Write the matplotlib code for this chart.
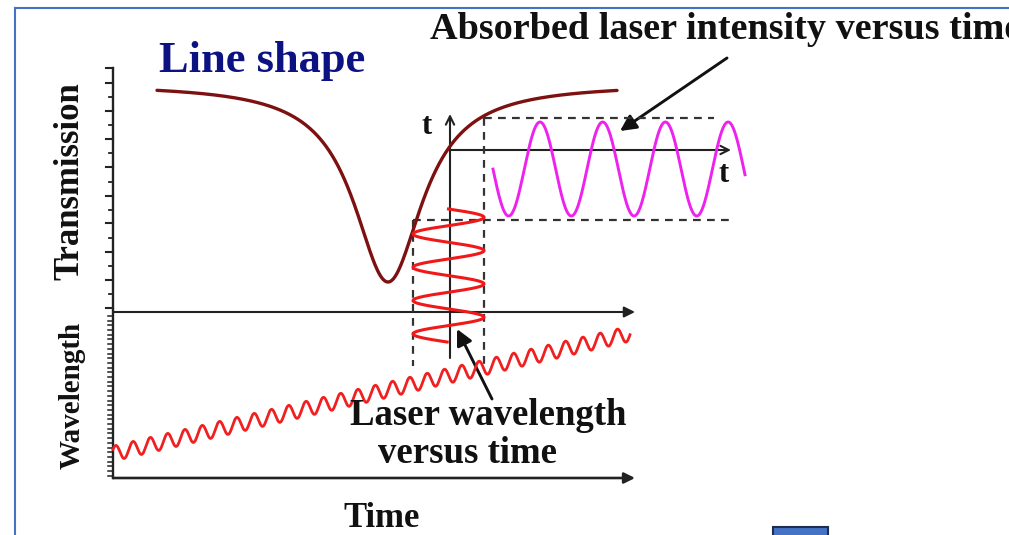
import numpy as np
import matplotlib
matplotlib.use("Agg")
import matplotlib.pyplot as plt
from matplotlib.patches import Rectangle, FancyArrowPatch

# canvas units are pixels, origin top-left
W, H = 1009, 535

# transmission line shape (Lorentzian dip)
DIP_SPAN = [157, 617]
DIP_CENTER = 388
DIP_HALF_WIDTH = 42
DIP_BASELINE = 84
DIP_DEPTH = 198

# laser wavelength: slow ramp plus fast sine modulation
RAMP_SPAN = [113, 630]
RAMP_LEVEL = [453.6, 333.7]
RAMP_PERIOD = 17.3
RAMP_AMPLITUDE = 7.5
RAMP_FIRST_PEAK = 133

# wavelength modulation drawn against the line shape, time running downward
MOD_X = [413, 484]
MOD_T = [209, 342]
MOD_PERIOD = 33.3

# absorbed intensity versus time
SIG_T = [493, 745]
SIG_LEVEL = [122, 216]
SIG_PERIOD = 62.7
SIG_FIRST_PEAK = 540

# axis frame
T_AXIS_X = 113
T_AXIS_TOP = 68
SPLIT_Y = 312
BOTTOM_Y = 478
AXIS_END_X = 635
TRANS_TICKS = [83, 111, 139, 167, 196, 223, 252, 280, 308]

INK = "#222222"
SERIF = "Liberation Serif"


def arrow(ax, start, end, style="-|>", lw=1.4, scale=14, color=INK):
    ax.add_patch(FancyArrowPatch(start, end, arrowstyle=style, mutation_scale=scale,
                                 color=color, lw=lw, shrinkA=0, shrinkB=0))


def label(ax, x, y, s, size, **kw):
    kw.setdefault("ha", "center")
    kw.setdefault("va", "baseline")
    kw.setdefault("color", "#111111")
    ax.text(x, y, s, fontsize=size, fontfamily=SERIF, fontweight="bold", **kw)


fig = plt.figure(figsize=(W / 100, H / 100), dpi=100)
ax = fig.add_axes([0, 0, 1, 1])
ax.set_xlim(0, W)
ax.set_ylim(H, 0)
ax.set_axis_off()

# slide frame
ax.plot([15, 15], [8, H], color="#4472c4", lw=1.5)
ax.plot([15, W], [8, 8], color="#4472c4", lw=1.5)
ax.add_patch(Rectangle((773, 527), 55, 12, fc="#4472c4", ec="#1f2d50", lw=1.5))

# transmission axis with ticks
ax.plot([T_AXIS_X, T_AXIS_X], [BOTTOM_Y, T_AXIS_TOP], color=INK, lw=1.7)
for y in TRANS_TICKS:
    ax.plot([T_AXIS_X - 7, T_AXIS_X], [y, y], color=INK, lw=1.5)
for y0, y1 in zip(TRANS_TICKS[:-1], TRANS_TICKS[1:]):
    ym = (y0 + y1) / 2
    ax.plot([T_AXIS_X - 4, T_AXIS_X], [ym, ym], color=INK, lw=1.3)
ax.plot([T_AXIS_X - 7, T_AXIS_X], [T_AXIS_TOP, T_AXIS_TOP], color=INK, lw=1.5)

# wavelength axis: dense small ticks
for y in np.arange(SPLIT_Y + 4, BOTTOM_Y, 4.7):
    ax.plot([T_AXIS_X - 5, T_AXIS_X], [y, y], color=INK, lw=1.1)

# two time axes
arrow(ax, (T_AXIS_X, SPLIT_Y), (AXIS_END_X, SPLIT_Y), lw=1.5, scale=16)
arrow(ax, (T_AXIS_X, BOTTOM_Y), (AXIS_END_X, BOTTOM_Y), lw=1.9, scale=16)

# line shape
x = np.linspace(DIP_SPAN[0], DIP_SPAN[1], 600)
dip = DIP_BASELINE + DIP_DEPTH / (1 + ((x - DIP_CENTER) / DIP_HALF_WIDTH) ** 2)
ax.plot(x, dip, color="#7d1010", lw=2.4, solid_capstyle="round", zorder=3)

# wavelength ramp
x = np.linspace(RAMP_SPAN[0], RAMP_SPAN[1], 1500)
level = np.interp(x, RAMP_SPAN, RAMP_LEVEL)
ramp = level - RAMP_AMPLITUDE * np.cos(2 * np.pi * (x - RAMP_FIRST_PEAK) / RAMP_PERIOD)
ax.plot(x, ramp, color="#f02020", lw=2.0, zorder=3)

# dashed guides
dash = dict(color="#333333", lw=1.6, ls=(0, (3.5, 2.8)), zorder=2)
ax.plot([MOD_X[0], MOD_X[0]], [SIG_LEVEL[1] + 4, 366], **dash)
ax.plot([MOD_X[1], MOD_X[1]], [SIG_LEVEL[0] - 4, 366], **dash)
ax.plot([MOD_X[1], 714], [SIG_LEVEL[0] - 4, SIG_LEVEL[0] - 4], **dash)
ax.plot([MOD_X[0], 732], [SIG_LEVEL[1] + 4, SIG_LEVEL[1] + 4], **dash)

# inset axes
inset_x = (MOD_X[0] + MOD_X[1]) / 2 + 1.5
arrow(ax, (inset_x, 358), (inset_x, 114), style="->", lw=1.5, scale=15)
arrow(ax, (inset_x, 150), (731, 150), style="->", lw=1.5, scale=15)
label(ax, 427, 134, "t", 22)
label(ax, 724, 182, "t", 22)

# wavelength modulation, time running downward
t = np.linspace(MOD_T[0], MOD_T[1], 600)
xc = (MOD_X[0] + MOD_X[1]) / 2
amp = (MOD_X[1] - MOD_X[0]) / 2
ax.plot(xc + amp * np.sin(2 * np.pi * (t - MOD_T[0]) / MOD_PERIOD), t,
        color="#f01818", lw=2.2, zorder=4)

# absorbed intensity
t = np.linspace(SIG_T[0], SIG_T[1], 600)
mid = (SIG_LEVEL[0] + SIG_LEVEL[1]) / 2
half = (SIG_LEVEL[1] - SIG_LEVEL[0]) / 2
ax.plot(t, mid - half * np.cos(2 * np.pi * (t - SIG_FIRST_PEAK) / SIG_PERIOD),
        color="#ee22ee", lw=2.1, zorder=4)

# callout arrows
arrow(ax, (727, 58), (620, 131), lw=2.1, scale=24, color="#111111")
arrow(ax, (492, 399), (457, 329), lw=2.1, scale=24, color="#111111")

# labels
label(ax, 262, 72, "Line shape", 32, color="#0c1282")
label(ax, 430, 39, "Absorbed laser intensity versus time", 27.5, ha="left")
label(ax, 70, 181, "Transmission", 25, rotation=90, va="center")
label(ax, 72, 395, "Wavelength", 21, rotation=90, va="center")
label(ax, 488, 425, "Laser wavelength", 26.5)
label(ax, 468, 463, "versus time", 26.5)
label(ax, 382, 527, "Time", 25)

fig.savefig("out.png", dpi=100, facecolor="white")
